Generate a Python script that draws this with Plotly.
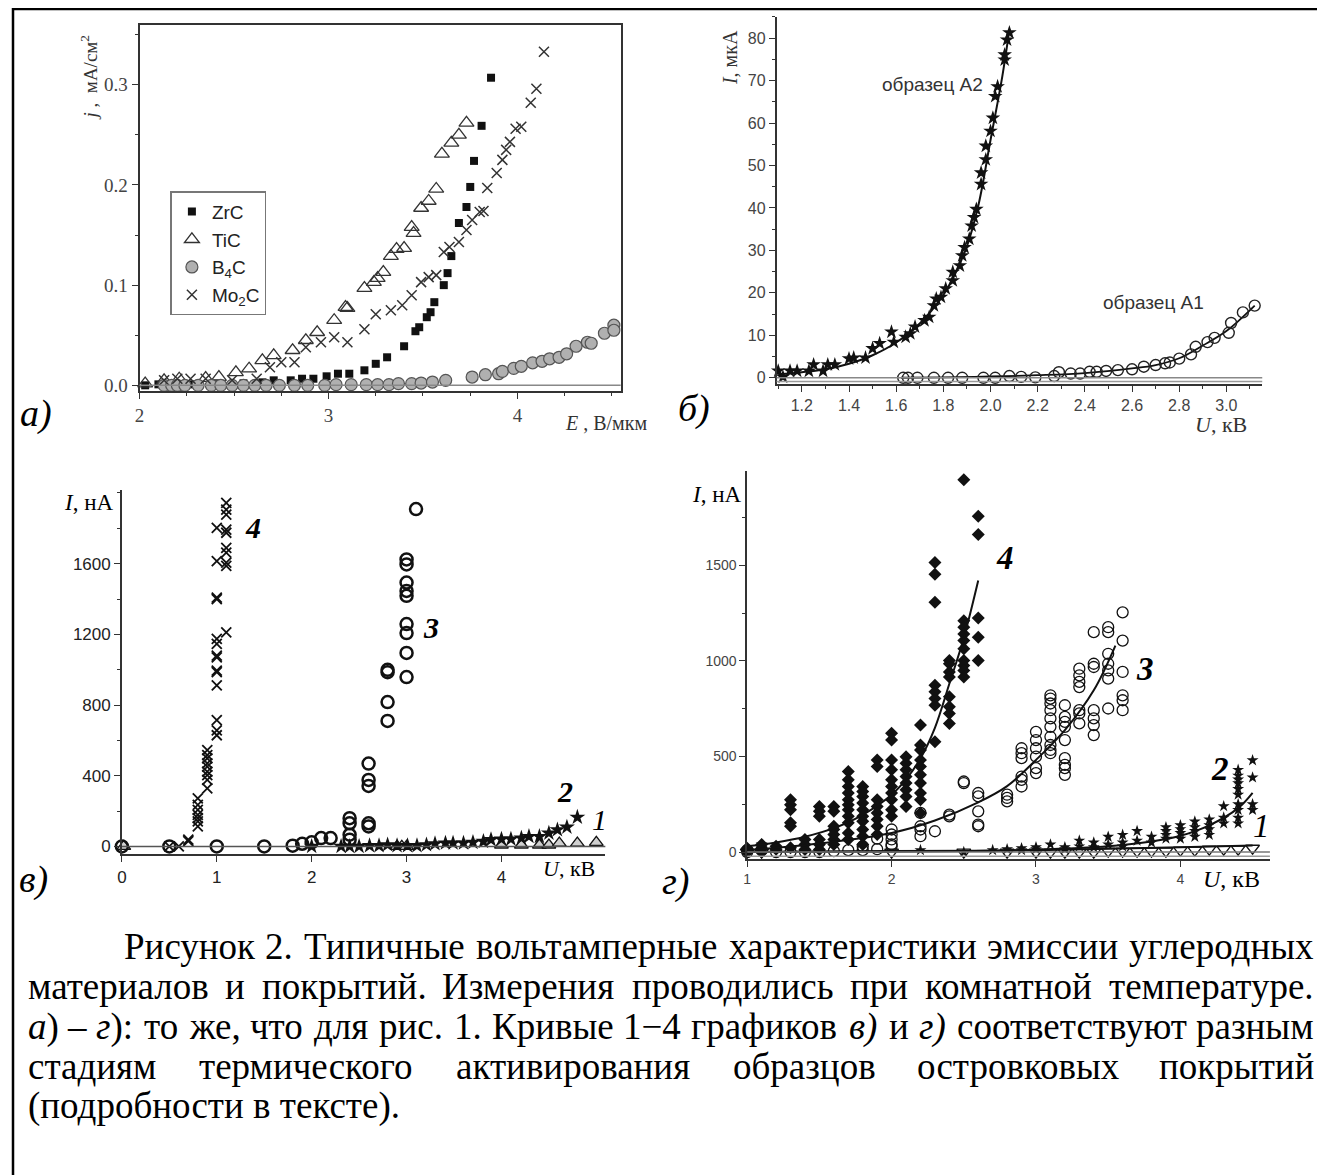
import re
import plotly.graph_objects as go

# The page body has an 8px margin, so the figure is drawn 8px smaller and shifted.
OFF = 8
W, H = 1325 - OFF, 1175 - OFF
SERIF = "Liberation Serif, Times New Roman, serif"
SANS = "Liberation Sans, Arial, sans-serif"
NARROW = "Liberation Sans Narrow, Arial Narrow, Liberation Sans, sans-serif"

# ---------------- panel a) data ----------------
zrc_E = [2.03, 2.10, 2.18, 2.27, 2.40, 2.55, 2.65, 2.71, 2.80, 2.86, 2.92, 2.99, 3.05, 3.11, 3.19, 3.25,
         3.31, 3.40, 3.46, 3.48, 3.52, 3.54, 3.56, 3.61, 3.63, 3.65, 3.69, 3.73, 3.75, 3.77, 3.81, 3.86]
zrc_j = [0.0, 0.001, 0.001, 0.001, 0.002, 0.002, 0.003, 0.005, 0.005, 0.0066, 0.0066, 0.009, 0.0116, 0.0116,
         0.015, 0.0215, 0.028, 0.039, 0.054, 0.058, 0.068, 0.073, 0.083, 0.100, 0.112, 0.129, 0.162, 0.178,
         0.198, 0.224, 0.259, 0.307]
tic_E = [2.03, 2.13, 2.21, 2.35, 2.42, 2.51, 2.58, 2.65, 2.71, 2.81, 2.88, 2.94, 3.03, 3.09, 3.10, 3.19,
         3.24, 3.26, 3.29, 3.33, 3.36, 3.40, 3.44, 3.45, 3.49, 3.53, 3.57, 3.60, 3.65, 3.69, 3.73]
tic_j = [0.0017, 0.005, 0.0066, 0.0073, 0.0083, 0.013, 0.0166, 0.025, 0.030, 0.035, 0.045, 0.053, 0.065,
         0.078, 0.077, 0.097, 0.103, 0.107, 0.113, 0.129, 0.136, 0.137, 0.158, 0.152, 0.177, 0.184, 0.196,
         0.231, 0.242, 0.250, 0.262]
b4c_E = [2.13, 2.17, 2.20, 2.24, 2.31, 2.38, 2.43, 2.49, 2.55, 2.61, 2.67, 2.74, 2.82, 2.89, 2.98, 3.04,
         3.12, 3.20, 3.26, 3.32, 3.37, 3.44, 3.49, 3.55, 3.62, 3.76, 3.83, 3.90, 3.92, 3.98, 4.02, 4.08,
         4.13, 4.17, 4.22, 4.26, 4.31, 4.37, 4.39, 4.46, 4.51, 4.51]
b4c_j = [0, 0, 0, 0, 0, 0, 0, 0, 0, 0, 0, 0, 0, 0, 0, 0.0007, 0.0007, 0.0007, 0.0007, 0.0007, 0.0017,
         0.0017, 0.0023, 0.0033, 0.005, 0.0083, 0.0106, 0.0116, 0.014, 0.017, 0.019, 0.0225, 0.024,
         0.0265, 0.028, 0.0315, 0.039, 0.043, 0.042, 0.052, 0.060, 0.055]
mo_E = [2.13, 2.20, 2.27, 2.35, 2.49, 2.62, 2.69, 2.75, 2.82, 2.88, 2.96, 3.03, 3.10, 3.19, 3.25, 3.33,
        3.39, 3.44, 3.49, 3.53, 3.57, 3.61, 3.64, 3.69, 3.73, 3.76, 3.80, 3.82, 3.84, 3.89, 3.92, 3.94,
        3.96, 3.99, 4.02, 4.07, 4.10, 4.14]
mo_j = [0.005, 0.0066, 0.0066, 0.0066, 0.005, 0.0066, 0.018, 0.023, 0.023, 0.038, 0.043, 0.048, 0.043,
        0.056, 0.071, 0.075, 0.080, 0.090, 0.103, 0.108, 0.110, 0.133, 0.138, 0.143, 0.155, 0.165, 0.173,
        0.174, 0.197, 0.212, 0.225, 0.235, 0.243, 0.256, 0.258, 0.282, 0.296, 0.333]
a_xticks = [2, 3, 4]
a_yticks = [0.0, 0.1, 0.2, 0.3]
a_yticktext = ["0.0", "0.1", "0.2", "0.3"]

# ---------------- panel б) data ----------------
a2_U = [1.10, 1.12, 1.15, 1.18, 1.23, 1.25, 1.29, 1.31, 1.34, 1.40, 1.42, 1.47, 1.50, 1.53, 1.58, 1.59,
        1.64, 1.66, 1.68, 1.72, 1.74, 1.76, 1.77, 1.79, 1.81, 1.84, 1.84, 1.87, 1.88, 1.89, 1.91, 1.92,
        1.93, 1.94, 1.96, 1.96, 1.98, 1.98, 2.00, 2.01, 2.02, 2.03, 2.06, 2.06, 2.07, 2.08]
a2_I = [1.6, 0.2, 1.6, 1.6, 1.6, 3.1, 1.6, 3.1, 3.1, 4.5, 4.7, 4.7, 6.9, 8.1, 10.8, 8.4, 9.6, 10.4, 12.0,
        13.5, 14.3, 17.0, 18.6, 19.0, 21.0, 22.9, 24.9, 26.4, 28.8, 30.7, 32.7, 35.8, 37.8, 39.7, 45.6,
        48.3, 51.4, 54.6, 58.1, 61.2, 66.3, 68.6, 74.9, 76.1, 79.6, 81.3]
a2_fit_U = [1.10, 1.20, 1.30, 1.40, 1.50, 1.60, 1.70, 1.75, 1.80, 1.85, 1.90, 1.95, 2.00, 2.05, 2.08]
a2_fit_I = [0.8, 1.3, 2.0, 3.3, 5.3, 8.3, 12.8, 15.8, 19.5, 24.5, 31.0, 41.0, 56.0, 71.0, 82.0]
a1_U = [1.63, 1.65, 1.69, 1.76, 1.82, 1.88, 1.97, 2.02, 2.08, 2.13, 2.19, 2.27, 2.29, 2.34, 2.38, 2.42,
        2.45, 2.49, 2.54, 2.60, 2.65, 2.70, 2.74, 2.76, 2.80, 2.85, 2.87, 2.92, 2.95, 3.01, 3.02, 3.07, 3.12]
a1_I = [0, 0, 0, 0, 0, 0, 0, 0, 0.4, 0.2, 0.1, 0.4, 1.3, 1.0, 1.0, 1.4, 1.4, 1.6, 1.8, 2.0, 2.6, 3.0,
        3.4, 3.6, 4.5, 5.5, 7.3, 8.4, 9.4, 10.6, 12.9, 15.4, 17.0]
a1_fit_U = [1.62, 1.80, 2.00, 2.20, 2.40, 2.60, 2.70, 2.80, 2.90, 3.00, 3.12]
a1_fit_I = [0.0, 0.1, 0.3, 0.6, 1.1, 2.2, 3.0, 4.6, 7.6, 11.0, 17.0]
b_xticks = [1.2, 1.4, 1.6, 1.8, 2.0, 2.2, 2.4, 2.6, 2.8, 3.0]
b_xticktext = ["1.2", "1.4", "1.6", "1.8", "2.0", "2.2", "2.4", "2.6", "2.8", "3.0"]
b_yticks = [0, 10, 20, 30, 40, 50, 60, 70, 80]

# ---------------- panel в) data ----------------
v4_U = [0.5, 0.6, 0.7, 0.7, 0.8, 0.8, 0.8, 0.8, 0.8, 0.8, 0.8, 0.9, 0.9, 0.9, 0.9, 0.9, 0.9, 0.9, 0.9, 0.9,
        1.0, 1.0, 1.0, 1.0, 1.0, 1.0, 1.0, 1.0, 1.0, 1.0, 1.0, 1.0, 1.0, 1.0,
        1.1, 1.1, 1.1, 1.1, 1.1, 1.1, 1.1, 1.1, 1.1, 1.1]
v4_I = [0, 0, 38, 30, 272, 235, 207, 178, 160, 141, 113, 545, 516, 498, 470, 451, 423, 404, 376, 329,
        1803, 1615, 1408, 1399, 1174, 1146, 1080, 1070, 995, 986, 911, 714, 657, 629,
        1944, 1906, 1878, 1793, 1775, 1690, 1662, 1606, 1587, 1211]
v3_U = [0.0, 0.5, 1.0, 1.5, 1.8, 1.9, 2.0, 2.1, 2.2, 2.4, 2.4, 2.4, 2.4, 2.6, 2.6, 2.6, 2.6, 2.6,
        2.8, 2.8, 2.8, 2.8, 3.0, 3.0, 3.0, 3.0, 3.0, 3.0, 3.0, 3.0, 3.0, 3.1]
v3_I = [0, 0, 0, 0, 4, 15, 23, 47, 47, 160, 131, 66, 38, 469, 376, 342, 131, 113,
        999, 986, 817, 710, 1624, 1596, 1493, 1446, 1418, 1258, 1207, 1095, 958, 1909]
v2_U = [2.0, 2.31, 2.40, 2.50, 2.61, 2.71, 2.80, 2.90, 3.01, 3.11, 3.21, 3.30, 3.41, 3.49, 3.60, 3.70,
        3.81, 3.89, 4.00, 4.10, 4.21, 4.29, 4.40, 4.50, 4.59, 4.69, 4.80]
v2_I = [0, 0, 0, 0, 4, 4, 9, 4, 4, 4, 9, 15, 19, 19, 19, 23, 28, 38, 41, 41, 47, 56, 56, 75, 94, 109, 165]
v1_U = [0.02, 2.90, 2.95, 3.00, 4.00, 4.21, 4.40, 4.50, 4.61, 4.80, 5.00]
v1_I = [0, 0, 0, 0, 8, 8, 8, 8, 19, 19, 23]
v_xticks = [0, 1, 2, 3, 4]
v_yticks = [0, 400, 800, 1200, 1600]

# ---------------- panel г) data ----------------
g4_U = [1.0, 1.0, 1.1, 1.1, 1.1, 1.2, 1.2,
        1.3, 1.3, 1.3, 1.3, 1.3, 1.3, 1.4, 1.4, 1.4,
        1.5, 1.5, 1.5, 1.5, 1.5, 1.5, 1.6, 1.6, 1.6, 1.6, 1.6, 1.6, 1.6,
        1.7, 1.7, 1.7, 1.7, 1.7, 1.7, 1.7, 1.7, 1.7, 1.7, 1.7,
        1.8, 1.8, 1.8, 1.8, 1.8, 1.8, 1.8, 1.8, 1.8, 1.8,
        1.9, 1.9, 1.9, 1.9, 1.9, 1.9, 1.9, 1.9,
        2.0, 2.0, 2.0, 2.0, 2.0, 2.0, 2.0, 2.0, 2.0, 2.0,
        2.1, 2.1, 2.1, 2.1, 2.1, 2.1, 2.1, 2.1,
        2.2, 2.2, 2.2, 2.2, 2.2, 2.2, 2.2, 2.2, 2.2, 2.2,
        2.3, 2.3, 2.3, 2.3, 2.3, 2.3, 2.3, 2.3,
        2.4, 2.4, 2.4, 2.4, 2.4, 2.4, 2.4, 2.4,
        2.5, 2.5, 2.5, 2.5, 2.5, 2.5, 2.5, 2.5, 2.5, 2.5,
        2.6, 2.6, 2.6, 2.6, 2.6]
g4_I = [10, 20, 20, 40, 0, 30, 15,
        274, 248, 222, 153, 135, 22, 66, 40, 14,
        239, 213, 187, 66, 40, 14, 239, 213, 135, 118, 92, 66, 40,
        421, 378, 343, 309, 274, 248, 222, 187, 153, 100, 66,
        343, 317, 291, 257, 222, 187, 161, 118, 83, 40,
        482, 447, 274, 239, 205, 170, 135, 92,
        621, 586, 482, 430, 378, 343, 309, 274, 222, 187,
        499, 465, 430, 395, 361, 326, 291, 239,
        664, 560, 534, 482, 447, 404, 361, 309, 274, 205,
        1514, 1453, 1306, 872, 838, 803, 768, 577,
        1002, 985, 942, 916, 812, 760, 725, 673,
        1947, 1210, 1176, 1141, 1106, 1063, 1002, 976, 950, 916,
        1757, 1661, 1224, 1124, 1002]
g4_fit_U = [1.0, 1.2, 1.4, 1.6, 1.8, 2.0, 2.1, 2.2, 2.3, 2.4, 2.5, 2.6]
g4_fit_I = [30, 50, 80, 125, 195, 300, 380, 490, 650, 880, 1120, 1420]
g3_U = [1.0, 1.0, 1.1, 1.2, 1.3, 1.4, 1.5, 1.6, 1.7, 1.8, 1.8, 1.9, 1.9,
        2.0, 2.0, 2.0, 2.0, 2.0, 2.2, 2.2, 2.2, 2.2, 2.3, 2.4, 2.4, 2.5, 2.5,
        2.6, 2.6, 2.6, 2.6, 2.6, 2.8, 2.8, 2.8,
        2.9, 2.9, 2.9, 2.9, 2.9, 2.9, 3.0, 3.0, 3.0, 3.0, 3.0, 3.0,
        3.1, 3.1, 3.1, 3.1, 3.1, 3.1, 3.1, 3.1, 3.1, 3.1,
        3.2, 3.2, 3.2, 3.2, 3.2, 3.2, 3.2, 3.2, 3.2,
        3.3, 3.3, 3.3, 3.3, 3.3, 3.3, 3.3,
        3.4, 3.4, 3.4, 3.4, 3.4, 3.4, 3.4,
        3.5, 3.5, 3.5, 3.5, 3.5, 3.5, 3.5,
        3.6, 3.6, 3.6, 3.6, 3.6, 3.6]
g3_I = [0, 10, 10, 0, 0, 0, 0, 5, 10, 10, 30, 15, 70,
        118, 92, 66, 40, 31, 205, 135, 118, 83, 109, 196, 187, 369, 361,
        309, 291, 213, 144, 135, 300, 283, 265,
        543, 517, 491, 395, 378, 343, 629, 586, 543, 499, 439, 413,
        820, 803, 777, 742, 699, 655, 603, 560, 534, 517,
        768, 707, 681, 655, 586, 491, 456, 439, 404,
        959, 924, 890, 863, 742, 725, 673,
        1150, 985, 968, 742, 699, 664, 612,
        1176, 1150, 1037, 985, 950, 907, 751,
        1254, 1106, 942, 820, 794, 742]
g3_fit_U = [1.0, 1.5, 2.0, 2.3, 2.6, 2.8, 3.0, 3.2, 3.4, 3.55]
g3_fit_I = [10, 45, 100, 165, 260, 345, 482, 638, 846, 1080]
g2_U = [1.0, 1.1, 1.1, 2.2, 2.5, 2.7, 2.8, 2.9, 2.9, 3.0, 3.0, 3.1, 3.2, 3.2, 3.3, 3.3, 3.4, 3.4,
        3.5, 3.5, 3.6, 3.6, 3.6, 3.7, 3.7, 3.8, 3.8, 3.9, 3.9, 3.9, 3.9, 4.0, 4.0, 4.0, 4.0,
        4.1, 4.1, 4.1, 4.1, 4.2, 4.2, 4.2, 4.2, 4.3, 4.3, 4.3,
        4.4, 4.4, 4.4, 4.4, 4.4, 4.4, 4.4, 4.4, 4.4, 4.4, 4.5, 4.5, 4.5, 4.5]
g2_I = [10, 20, 40, 10, 0, 10, 15, 20, 10, 25, 15, 40, 15, 25, 60, 30, 50, 25,
        80, 40, 90, 50, 30, 110, 60, 80, 50, 130, 110, 90, 70, 140, 120, 100, 70,
        160, 130, 110, 80, 170, 140, 120, 90, 240, 180, 150,
        430, 400, 380, 360, 330, 300, 250, 220, 180, 150, 480, 390, 250, 220]
g2_fit_U = [1.0, 2.0, 2.5, 3.0, 3.5, 3.8, 4.0, 4.2, 4.4, 4.5]
g2_fit_I = [0, 2, 5, 12, 30, 55, 85, 140, 230, 310]
g1_U = [1.0, 1.1, 2.0, 2.5, 2.8, 3.0, 3.1, 3.2, 3.3, 3.4, 3.5, 3.6, 3.7, 3.8, 3.9, 4.0, 4.1, 4.2,
        4.3, 4.4, 4.5]
g1_I = [0, 0, 0, 0, 0, 0, 0, 0, 0, 0, 5, 5, 5, 5, 5, 10, 10, 15, 15, 15, 20]
g1_fit_U = [1.0, 2.0, 3.0, 4.0, 4.5]
g1_fit_I = [2, 5, 10, 25, 35]
g_xticks = [1, 2, 3, 4]
g_yticks = [0, 500, 1000, 1500]

# ---------------- caption ----------------
cap_line1 = ["Рисунок", "2.", "Типичные", "вольтамперные", "характеристики", "эмиссии", "углеродных"]
cap_line2 = ["материалов", "и", "покрытий.", "Измерения", "проводились", "при", "комнатной", "температуре."]
cap_line3 = ["<i>а</i>)", "–", "<i>г</i>):", "то", "же,", "что", "для", "рис.", "1.", "Кривые", "1−4",
             "графиков", "<i>в)</i>", "и", "<i>г)</i>", "соответствуют", "разным"]
cap_line4 = ["стадиям", "термического", "активирования", "образцов", "островковых", "покрытий"]
cap_line5 = "(подробности в тексте)."


def X(px):
    return (px - OFF) / W


def Y(py):
    return 1 - (py - OFF) / H


fig = go.Figure()

# panel a traces
fig.add_trace(go.Scatter(x=zrc_E, y=zrc_j, mode="markers", name="ZrC", xaxis="x", yaxis="y",
                         marker=dict(symbol="square", size=8, color="#111"), cliponaxis=False))
fig.add_trace(go.Scatter(x=tic_E, y=tic_j, mode="markers", name="TiC", xaxis="x", yaxis="y",
                         marker=dict(symbol="triangle-up-open", size=13, color="#333", line=dict(width=1.3)),
                         cliponaxis=False))
fig.add_trace(go.Scatter(x=b4c_E, y=b4c_j, mode="markers", name="B<sub>4</sub>C", xaxis="x", yaxis="y",
                         marker=dict(symbol="circle", size=12, color="#b0b0b0", line=dict(width=1.2, color="#555")),
                         cliponaxis=False))
fig.add_trace(go.Scatter(x=mo_E, y=mo_j, mode="markers", name="Mo<sub>2</sub>C", xaxis="x", yaxis="y",
                         marker=dict(symbol="x-thin-open", size=10, color="#333", line=dict(width=1.5)),
                         cliponaxis=False))

# panel б traces
fig.add_trace(go.Scatter(x=a2_fit_U, y=a2_fit_I, mode="lines", xaxis="x2", yaxis="y2", showlegend=False,
                         line=dict(color="#111", width=2, shape="spline")))
fig.add_trace(go.Scatter(x=a2_U, y=a2_I, mode="markers", xaxis="x2", yaxis="y2", showlegend=False,
                         marker=dict(symbol="star", size=11, color="#111"), cliponaxis=False))
fig.add_trace(go.Scatter(x=a1_fit_U, y=a1_fit_I, mode="lines", xaxis="x2", yaxis="y2", showlegend=False,
                         line=dict(color="#111", width=1.8, shape="spline")))
fig.add_trace(go.Scatter(x=a1_U, y=a1_I, mode="markers", xaxis="x2", yaxis="y2", showlegend=False,
                         marker=dict(symbol="circle-open", size=11, color="#222", line=dict(width=1.4)),
                         cliponaxis=False))

# panel в traces
fig.add_trace(go.Scatter(x=v1_U, y=v1_I, mode="markers", xaxis="x3", yaxis="y3", showlegend=False,
                         marker=dict(symbol="triangle-up", size=12, color="#d0d0d0", line=dict(width=1.3, color="#111")),
                         cliponaxis=False))
fig.add_trace(go.Scatter(x=v2_U, y=v2_I, mode="markers", xaxis="x3", yaxis="y3", showlegend=False,
                         marker=dict(symbol="star", size=12, color="#111"), cliponaxis=False))
fig.add_trace(go.Scatter(x=v3_U, y=v3_I, mode="markers", xaxis="x3", yaxis="y3", showlegend=False,
                         marker=dict(symbol="circle-open", size=12, color="#111", line=dict(width=2.5)),
                         cliponaxis=False))
fig.add_trace(go.Scatter(x=v4_U, y=v4_I, mode="markers", xaxis="x3", yaxis="y3", showlegend=False,
                         marker=dict(symbol="x-thin-open", size=10, color="#111", line=dict(width=1.8)),
                         cliponaxis=False))

# panel г traces
fig.add_trace(go.Scatter(x=g1_U, y=g1_I, mode="markers", xaxis="x4", yaxis="y4", showlegend=False,
                         marker=dict(symbol="triangle-down-open", size=12, color="#111", line=dict(width=1.3)),
                         cliponaxis=False))
fig.add_trace(go.Scatter(x=g3_U, y=g3_I, mode="markers", xaxis="x4", yaxis="y4", showlegend=False,
                         marker=dict(symbol="circle-open", size=11, color="#111", line=dict(width=1.3)),
                         cliponaxis=False))
fig.add_trace(go.Scatter(x=g4_U, y=g4_I, mode="markers", xaxis="x4", yaxis="y4", showlegend=False,
                         marker=dict(symbol="diamond", size=10, color="#111"), cliponaxis=False))
fig.add_trace(go.Scatter(x=g2_U, y=g2_I, mode="markers", xaxis="x4", yaxis="y4", showlegend=False,
                         marker=dict(symbol="star", size=9, color="#111"), cliponaxis=False))
for fu, fi in [(g1_fit_U, g1_fit_I), (g2_fit_U, g2_fit_I), (g3_fit_U, g3_fit_I), (g4_fit_U, g4_fit_I)]:
    fig.add_trace(go.Scatter(x=fu, y=fi, mode="lines", xaxis="x4", yaxis="y4", showlegend=False,
                             line=dict(color="#111", width=2, shape="spline")))

AX = dict(showline=True, linecolor="#333", ticks="outside", ticklen=6, tickwidth=1.4,
          tickcolor="#333", showgrid=False, zeroline=False)

fig.update_layout(
    width=W, height=H, margin=dict(l=0, r=0, t=0, b=0),
    paper_bgcolor="white", plot_bgcolor="rgba(0,0,0,0)",
    showlegend=True,
    legend=dict(x=X(166), y=Y(192), xanchor="left", yanchor="top", bgcolor="white",
                bordercolor="#777", borderwidth=1.5, font=dict(family=SANS, size=19, color="#222"),
                tracegroupgap=0),
    xaxis=dict(domain=[X(135), X(618)], range=[2, 4.546], anchor="y", tickvals=a_xticks, mirror=True,
               linewidth=2, minor=dict(dtick=0.25, ticklen=3, ticks="outside", tickcolor="#333"),
               tickfont=dict(family=SERIF, size=19, color="#444"), **AX),
    yaxis=dict(domain=[Y(393), Y(25)], range=[-0.006, 0.3597], anchor="x", tickvals=a_yticks,
               ticktext=a_yticktext, mirror=True, linewidth=2,
               minor=dict(dtick=0.05, ticklen=3, ticks="outside", tickcolor="#333"),
               tickfont=dict(family=SERIF, size=19, color="#444"), **AX),
    xaxis2=dict(domain=[X(774.5), X(1262)], range=[1.093, 3.152], anchor="y2", tickvals=b_xticks,
                ticktext=b_xticktext, linewidth=1.5,
                minor=dict(dtick=0.1, ticklen=3, ticks="outside", tickcolor="#333"),
                tickfont=dict(family=NARROW, size=16, color="#444"), **AX),
    yaxis2=dict(domain=[Y(386), Y(16.7)], range=[-1.56, 85.07], anchor="x2", tickvals=b_yticks,
                linewidth=1.5, minor=dict(dtick=5, ticklen=3, ticks="outside", tickcolor="#333"),
                tickfont=dict(family=NARROW, size=16, color="#444"), **AX),
    xaxis3=dict(domain=[X(117.3), X(602.6)], range=[0, 5.095], anchor="y3", tickvals=v_xticks,
                linewidth=1.5, tickfont=dict(family=NARROW, size=17, color="#222"), **AX),
    yaxis3=dict(domain=[Y(858), Y(491.7)], range=[-45, 2019], anchor="x3", tickvals=v_yticks,
                linewidth=1.5, minor=dict(dtick=200, ticklen=3, ticks="outside", tickcolor="#333"),
                tickfont=dict(family=NARROW, size=17, color="#222"), **AX),
    xaxis4=dict(domain=[X(745), X(1269.7)], range=[1.0, 4.62], anchor="y4", tickvals=g_xticks,
                linewidth=1.5, tickfont=dict(family=SANS, size=14, color="#444"), **AX),
    yaxis4=dict(domain=[Y(863), Y(473)], range=[-38, 1993], anchor="x4", tickvals=g_yticks,
                linewidth=1.5, minor=dict(dtick=250, ticklen=3, ticks="outside", tickcolor="#333"),
                tickfont=dict(family=SANS, size=14, color="#444"), **AX),
)

# zero reference lines (gray double lines as in the scans)
for xr, yr, yv, col in [("x", "y", 0, "#888"), ("x2", "y2", 0, "#888"), ("x2", "y2", -0.9, "#999"),
                        ("x3", "y3", 0, "#555"), ("x4", "y4", 0, "#777"), ("x4", "y4", -22, "#999")]:
    fig.add_shape(type="line", xref=xr + " domain", yref=yr, x0=0, x1=1, y0=yv, y1=yv,
                  line=dict(color=col, width=1.5))

# outer frame
fig.add_shape(type="rect", xref="paper", yref="paper", x0=X(8), x1=X(1319), y0=Y(1200), y1=Y(9),
              line=dict(color="#000", width=2.5), fillcolor="rgba(0,0,0,0)")


def ann(text, px, py, size, family=SERIF, xanchor="center", yanchor="middle", angle=0, color="#000"):
    fig.add_annotation(text=text, x=X(px), y=Y(py), xref="paper", yref="paper", showarrow=False,
                       font=dict(size=size, family=family, color=color), xanchor=xanchor,
                       yanchor=yanchor, textangle=angle, borderpad=0)


# axis titles and labels
ann("<i>j</i> ,  мА/см<sup>2</sup>", 84, 78, 19, angle=-90, color="#333")
ann("<i>E</i> , В/мкм", 603, 425, 20, color="#333")
ann("<i>а)</i>", 31, 415, 38)
ann("<i>I</i>, мкА", 728, 58, 20, angle=-90, color="#333")
ann("<i>U</i>, кВ", 1221, 426, 22, color="#333")
ann("образец А2", 931, 85, 19, family=SANS, color="#333")
ann("образец А1", 1153, 304, 19, family=SANS, color="#333")
ann("<i>б)</i>", 692, 410, 38)
ann("<i>I</i>, нА", 84, 505, 23)
ann("<i>U</i>, кВ", 566, 872, 22)
ann("<i>в)</i>", 29, 883, 38)
ann("<b><i>4</i></b>", 249, 530, 30)
ann("<b><i>3</i></b>", 428, 630, 30)
ann("<b><i>2</i></b>", 562, 795, 30)
ann("<i>1</i>", 597, 823, 30)
ann("<i>I</i>, нА", 714, 497, 23)
ann("<i>U</i>, кВ", 1231, 883, 24)
ann("<i>г)</i>", 673, 885, 38)
ann("<b><i>4</i></b>", 1004, 560, 33)
ann("<b><i>3</i></b>", 1144, 672, 33)
ann("<b><i>2</i></b>", 1220, 772, 33)
ann("<i>1</i>", 1261, 830, 33)

# caption with justified lines
FS = 37
CW = {'а': .444, 'б': .509, 'в': .472, 'г': .410, 'д': .509, 'е': .444, 'ж': .691, 'з': .395, 'и': .535,
      'й': .535, 'к': .486, 'л': .499, 'м': .633, 'н': .535, 'о': .5, 'п': .535, 'р': .5, 'с': .444,
      'т': .437, 'у': .5, 'ф': .648, 'х': .5, 'ц': .535, 'ч': .503, 'ш': .770, 'щ': .770, 'ъ': .517,
      'ы': .672, 'ь': .456, 'э': .429, 'ю': .747, 'я': .486, 'Р': .556, 'Т': .611, 'И': .722, 'К': .667,
      '.': .25, ',': .25, ':': .278, '(': .333, ')': .333, '–': .5, '−': .564, ' ': .25}


def word_w(w):
    plain = re.sub(r"<[^>]+>", "", w)
    return sum(CW.get(c, .5) for c in plain) * FS


def justify(words, x0, x1, py):
    ws = [word_w(w) for w in words]
    gap = (x1 - x0 - sum(ws)) / (len(words) - 1)
    x = x0
    for i, (w, wd) in enumerate(zip(words, ws)):
        if i == len(words) - 1:
            ann(w, x1, py, FS, xanchor="right")
        else:
            ann(w, x, py, FS, xanchor="left")
        x += wd + gap


justify(cap_line1, 118, 1315, 951)
justify(cap_line2, 22, 1315, 991)
justify(cap_line3, 22, 1315, 1031)
justify(cap_line4, 22, 1315, 1071)
ann(cap_line5, 22, 1111, FS, xanchor="left")

fig.write_html("out.html")
